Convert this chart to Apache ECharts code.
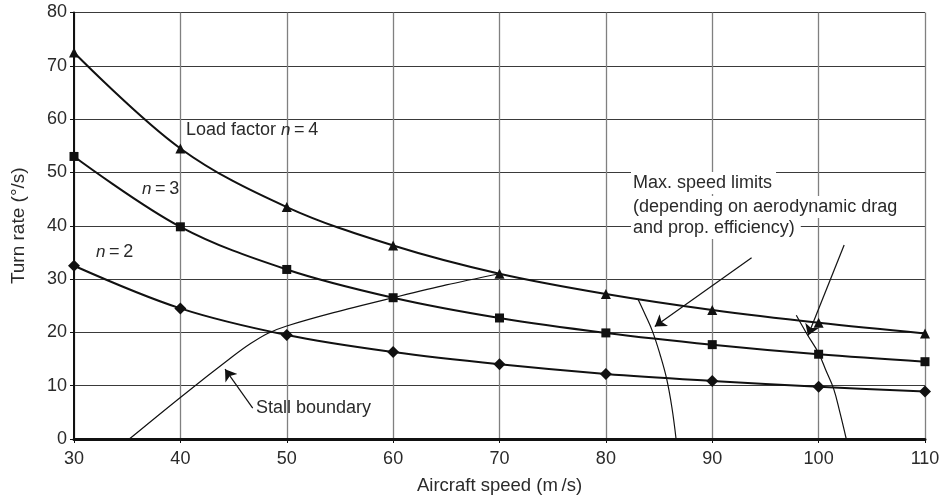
<!DOCTYPE html>
<html><head><meta charset="utf-8">
<script src="https://cdn.jsdelivr.net/npm/echarts@6/dist/echarts.min.js"></script>
<style>html,body{margin:0;padding:0;background:#fff}#c{width:943px;height:500px}</style>
</head><body><div id="c"></div>
<script>
const speeds = [30, 40, 50, 60, 70, 80, 90, 100, 110];
const n4 = [72.5, 54.5, 43.5, 36.3, 31.0, 27.2, 24.2, 21.8, 19.8];
const n3 = [53.0, 39.8, 31.8, 26.5, 22.7, 19.9, 17.7, 15.9, 14.5];
const n2 = [32.5, 24.5, 19.5, 16.3, 14.0, 12.2, 10.9, 9.8, 8.9];
const stallX = [35.2, 40, 45, 46.6, 48.2, 50, 54.4, 60, 65, 70];
const stallY = [0, 7.8, 15.6, 17.9, 19.8, 21.2, 23.7, 26.5, 28.9, 31.0];
const maxAX = [83.0, 83.7, 84.4, 85.1, 85.7, 86.2, 86.6];
const maxAY = [26.3, 23.3, 20.1, 15.8, 11.4, 6.0, 0];
const maxBX = [97.9, 98.9, 100.0, 100.7, 101.4, 102.0, 102.6];
const maxBY = [23.2, 19.7, 16.1, 12.8, 9.5, 5.0, 0];
const xTicks = [30, 110, 10];
const yTicks = [0, 80, 10];
const arrows = [
  [[46.8, 5.8], [44.2, 13.1]],
  [[93.7, 34.0], [84.6, 21.1]],
  [[102.4, 36.4], [99.0, 19.4]]
];

const pairs = (xs, ys) => xs.map((x, i) => [x, ys[i]]);
const FONT = 'Liberation Sans, Arial, sans-serif';
const TXT = '#2a2a2a';

const chart = echarts.init(document.getElementById('c'));
const curve = (name, ys, sym, size) => ({
  name, type: 'line', data: pairs(speeds, ys), smooth: 0.35,
  symbol: sym, symbolSize: size, showAllSymbol: true,
  lineStyle: { color: '#111', width: 2 },
  itemStyle: { color: '#111' }, z: 5
});
const thin = (name, xs, ys, sm) => ({
  name, type: 'line', data: pairs(xs, ys), smooth: sm, symbol: 'none',
  lineStyle: { color: '#111', width: 1.2 }, z: 4
});
const textEl = (x, y, text, extra) => Object.assign({
  type: 'text', left: x, top: y, z: 100,
  style: Object.assign({ text, font: '18px ' + FONT, fill: TXT }, extra || {})
});
const nLabel = (x, y, num) => ({
  type: 'text', left: x, top: y, z: 100,
  style: {
    text: '{i|n}{a|\u2009=\u2009' + num + '}',
    rich: {
      i: { fontSize: 17, fontStyle: 'italic', fontFamily: FONT, fill: TXT },
      a: { fontSize: 18, fontFamily: FONT, fill: TXT }
    }
  }
});

chart.setOption({
  animation: false,
  grid: { left: 74, right: 18, top: 12.5, bottom: 59, containLabel: false },
  xAxis: {
    type: 'value', min: xTicks[0], max: xTicks[1], interval: xTicks[2],
    name: 'Aircraft speed (m\u2009/s)', nameLocation: 'middle', nameGap: 37,
    nameTextStyle: { fontSize: 18.5, fontFamily: FONT, color: TXT },
    axisLine: { show: true, onZero: false, lineStyle: { color: '#111', width: 3 } },
    axisTick: { show: true, length: 4, lineStyle: { color: '#111' } },
    axisLabel: { fontSize: 18, fontFamily: FONT, color: TXT, margin: 11 },
    splitLine: { show: true, lineStyle: { color: '#808080', width: 1.3 } }
  },
  yAxis: {
    type: 'value', min: yTicks[0], max: yTicks[1], interval: yTicks[2],
    name: 'Turn rate (°/s)', nameLocation: 'middle', nameGap: 46,
    nameTextStyle: { fontSize: 19, fontFamily: FONT, color: TXT },
    axisLine: { show: true, lineStyle: { color: '#111', width: 2 } },
    axisTick: { show: true, length: 4, lineStyle: { color: '#111' } },
    axisLabel: { fontSize: 18, fontFamily: FONT, color: TXT, margin: 7 },
    splitLine: { show: true, lineStyle: { color: '#3a3a3a', width: 1.2 } }
  },
  series: [
    curve('n4', n4, 'triangle', 10),
    curve('n3', n3, 'rect', 9),
    curve('n2', n2, 'diamond', 12),
    thin('stall', stallX, stallY, 0.3),
    thin('maxA', maxAX, maxAY, 0.4),
    thin('maxB', maxBX, maxBY, 0.4),
    {
      type: 'lines', coordinateSystem: 'cartesian2d', z: 6,
      symbol: ['none', 'arrow'], symbolSize: [0, 11],
      lineStyle: { color: '#111', width: 1.2, opacity: 1 },
      data: arrows.map(a => ({ coords: a }))
    }
  ],
  graphic: [
    {
      type: 'text', left: 186, top: 121, z: 100,
      style: {
        text: '{a|Load factor }{i|n}{a|\u2009=\u20094}',
        rich: {
          i: { fontSize: 17, fontStyle: 'italic', fontFamily: FONT, fill: TXT },
          a: { fontSize: 18, fontFamily: FONT, fill: TXT }
        }
      }
    },
    nLabel(142, 180, 3),
    nLabel(96, 243, 2),
    textEl(256, 399, 'Stall boundary'),
    textEl(631, 172, 'Max. speed limits', { backgroundColor: '#fff', padding: [2, 4, 2, 2] }),
    textEl(631, 196, '(depending on aerodynamic drag', { backgroundColor: '#fff', padding: [2, 2, 2, 2] }),
    textEl(631, 218, 'and prop. efficiency)', { backgroundColor: '#fff', padding: [1, 6, 2, 2] })
  ]
});
</script></body></html>
